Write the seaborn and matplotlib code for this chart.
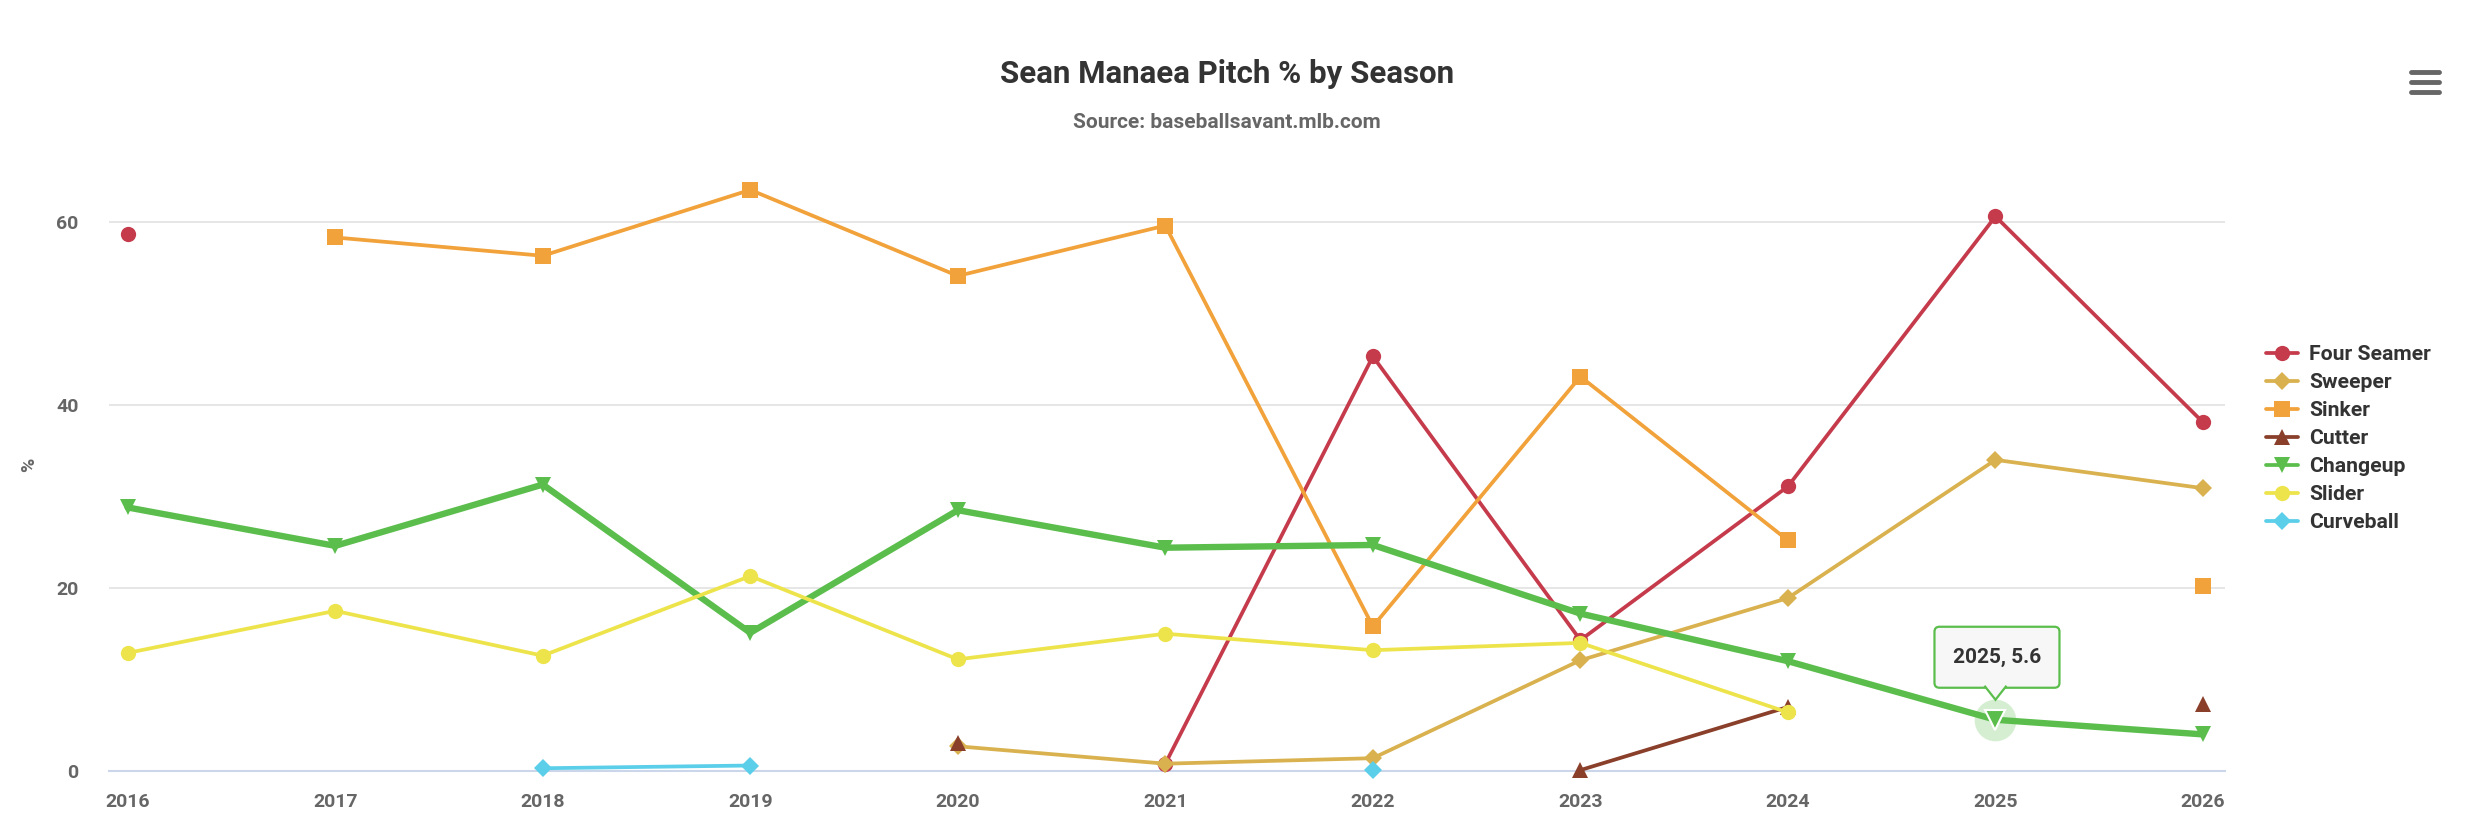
import numpy as np
import pandas as pd
import matplotlib.pyplot as plt
import seaborn as sns
from matplotlib.lines import Line2D
from matplotlib.patches import FancyBboxPatch, Polygon
from matplotlib.transforms import IdentityTransform

# pitch usage (%) per season
years = [2016, 2017, 2018, 2019, 2020, 2021, 2022, 2023, 2024, 2025, 2026]
four_seamer = [58.7, None, None, None, None, 0.8, 45.3, 14.3, 31.1, 60.6, 38.1]
sweeper = [None, None, None, None, 2.7, 0.8, 1.4, 12.1, 18.9, 34.0, 30.9]
sinker = [None, 58.3, 56.3, 63.5, 54.1, 59.6, 15.8, 43.1, 25.2, None, 20.2]
cutter = [None, None, None, None, 3.1, None, None, 0.1, 7.0, None, 7.3]
changeup = [28.8, 24.6, 31.3, 15.1, 28.5, 24.4, 24.7, 17.2, 12.0, 5.6, 4.0]
slider = [12.9, 17.5, 12.6, 21.3, 12.2, 15.0, 13.2, 14.0, 6.4, None, None]
curveball = [None, None, 0.3, 0.6, None, None, 0.1, None, None, None, None]

pitch_names = ['Four Seamer', 'Sweeper', 'Sinker', 'Cutter', 'Changeup', 'Slider', 'Curveball']
pitch_values = [four_seamer, sweeper, sinker, cutter, changeup, slider, curveball]
colors = ['#C53B4C', '#D9B24F', '#F2A23A', '#8A3F2B', '#5BBE4C', '#EDE44C', '#5BCFE9']
markers = ['o', 'D', 's', '^', 'v', 'o', 'D']
msizes = [11, 9, 11, 11, 11, 11, 9]
hover_year = 2025
hover_pitch = 'Changeup'

# long table, a new segment id after every missing season so lines break at gaps
rows = []
seg = 0
for name, vals in zip(pitch_names, pitch_values):
    seg += 1
    for yr, v in zip(years, vals):
        if v is None:
            seg += 1
            continue
        rows.append({'pitch': name, 'year': yr, 'pct': v, 'seg': seg})
df = pd.DataFrame(rows)

sns.set_theme(style='white')
plt.rcParams['font.family'] = ['Roboto', 'DejaVu Sans']
plt.rcParams['font.weight'] = 'bold'

fig = plt.figure(figsize=(24.77, 8.38), dpi=100)
ax = fig.add_axes([109 / 2477, 1 - 771 / 838, (2225 - 109) / 2477, (771 - 167) / 838])

for name, col, mk, ms in zip(pitch_names, colors, markers, msizes):
    lw = 4.6 if name == hover_pitch else 2.7
    sns.lineplot(data=df[df.pitch == name], x='year', y='pct', units='seg', estimator=None,
                 color=col, marker=mk, markersize=ms, markeredgewidth=0, linewidth=lw,
                 legend=False, ax=ax, zorder=3)

for ln in ax.lines:
    ln.set_clip_on(False)

ax.set_xlim(2015.91, 2026.106)
ax.set_ylim(0, 66)
ax.set_xticks(years)
ax.set_xticklabels([str(y) for y in years])
ax.set_yticks([0, 20, 40, 60])
ax.set_xlabel('')
ax.set_ylabel('')
ax.grid(axis='y', color='#e6e6e6', linewidth=1.4)
ax.grid(axis='x', visible=False)
for s in ['left', 'right', 'top']:
    ax.spines[s].set_visible(False)
ax.spines['bottom'].set_color('#ccd6eb')
ax.spines['bottom'].set_linewidth(1.5)
ax.tick_params(axis='x', length=13.5, width=1.5, color='#ccd6eb', pad=2, labelsize=14, labelcolor='#666666')
ax.tick_params(axis='y', length=0, pad=22, labelsize=14, labelcolor='#666666')
for lbl in ax.get_xticklabels() + ax.get_yticklabels():
    lbl.set_fontweight('bold')

# hovered point: halo, enlarged marker and tooltip callout
hv = changeup[years.index(hover_year)]
hcol = colors[pitch_names.index(hover_pitch)]
ax.scatter([hover_year], [hv], s=900, color=hcol, alpha=0.25, linewidths=0, zorder=4, clip_on=False)
ax.plot([hover_year], [hv], marker='v', markersize=15, color=hcol, markeredgecolor='white',
        markeredgewidth=1.5, zorder=5, clip_on=False)

px, py = ax.transData.transform((hover_year, hv))
box = FancyBboxPatch((px - 61, py + 32), 125, 61, boxstyle='round,pad=0,rounding_size=5',
                     fc='#F7F7F7', ec=hcol, lw=1.6, transform=IdentityTransform(), zorder=5)
fig.add_artist(box)
pointer = Polygon([(px - 11, py + 34), (px, py + 20), (px + 11, py + 34)], closed=False,
                  fc='#F7F7F7', ec=hcol, lw=1.6, transform=IdentityTransform(), zorder=6)
fig.add_artist(pointer)
fig.text((px + 2) / 2477, (py + 62) / 838, f'{hover_year}, {hv}', ha='center', va='center',
         fontsize=15, fontweight='bold', color='#333333', zorder=7)

fig.text(29 / 2477, 0.445, '%', rotation=90, ha='center', va='center', fontsize=14,
         fontweight='bold', color='#666666')
fig.text(1227 / 2477, 1 - 74 / 838, 'Sean Manaea Pitch % by Season', ha='center', va='center',
         fontsize=22.5, fontweight='bold', color='#333333')
fig.text(1227 / 2477, 1 - 122 / 838, 'Source: baseballsavant.mlb.com', ha='center', va='center',
         fontsize=15, fontweight='bold', color='#666666')

handles = [Line2D([], [], color=c, marker=m, markersize=ms, markeredgewidth=0, linewidth=2.7)
           for c, m, ms in zip(colors, markers, msizes)]
leg = fig.legend(handles, pitch_names, loc='upper left', bbox_to_anchor=(2266 / 2477, 1 - 345 / 838),
                 frameon=False, fontsize=15.2, labelspacing=0.43, handlelength=1.52, handletextpad=0.52,
                 borderaxespad=0, borderpad=0)
for t in leg.get_texts():
    t.set_color('#333333')
    t.set_fontweight('bold')

# export menu icon
for yy in [72, 82, 92]:
    fig.add_artist(Line2D([2411 / 2477, 2439 / 2477], [1 - yy / 838, 1 - yy / 838], color='#666666',
                          linewidth=3.5, solid_capstyle='round'))

fig.savefig('out.png', dpi=100, facecolor='white')
